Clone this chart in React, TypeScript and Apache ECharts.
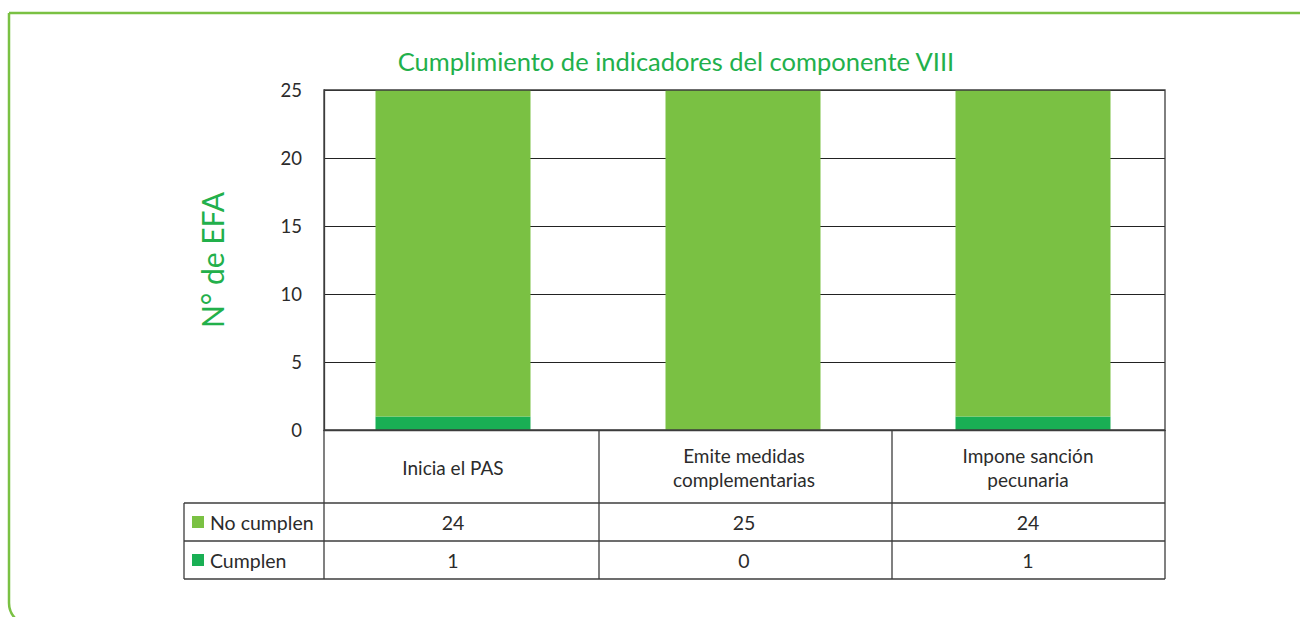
import React, { useEffect, useRef } from 'react';
import * as echarts from 'echarts';

const chartTitle = 'Cumplimiento de indicadores del componente VIII';
const yAxisName = 'N° de EFA';
const categories = ['Inicia el PAS', 'Emite medidas\ncomplementarias', 'Impone sanción\npecunaria'];
const seriesNames = ['No cumplen', 'Cumplen'];
const noCumplen = [24, 25, 24];
const cumplen = [1, 0, 1];
const yMin = 0;
const yMax = 25;
const yInterval = 5;

const LIGHT = '#7AC143';
const DARK = '#19AF54';
const TITLE_GREEN = '#22B04B';
const TEXT = '#2b2b2b';
const LINE = '#3c3c3c';
const FONT = 'Lato, "Noto Sans", sans-serif';

export default function App() {
  const ref = useRef<HTMLDivElement>(null);
  useEffect(() => {
    const chart = echarts.init(ref.current!, null, { renderer: 'svg' });
    const plotL = 324, plotT = 90, plotW = 841, plotH = 340;
    const plotR = plotL + plotW, plotB = plotT + plotH;
    const tableL = 184;
    const rowYs = [plotB, 503, 541, 579];
    const colXs = [plotL, 599, 892, plotR];
    const colCenters = [453, 744, 1028];
    const lineStyle = { stroke: LINE, lineWidth: 1.3 };
    const g: any[] = [];
    g.push({
      type: 'rect', silent: true,
      shape: { x: 9, y: 13, width: 1400, height: 612, r: [0, 0, 0, 22] },
      style: { fill: 'none', stroke: LIGHT, lineWidth: 2.5 },
    });
    g.push({ type: 'line', shape: { x1: tableL, y1: rowYs[1], x2: plotR, y2: rowYs[1] }, style: lineStyle });
    g.push({ type: 'line', shape: { x1: tableL, y1: rowYs[2], x2: plotR, y2: rowYs[2] }, style: lineStyle });
    g.push({ type: 'line', shape: { x1: tableL, y1: rowYs[3], x2: plotR, y2: rowYs[3] }, style: lineStyle });
    g.push({ type: 'line', shape: { x1: tableL, y1: rowYs[1], x2: tableL, y2: rowYs[3] }, style: lineStyle });
    colXs.forEach((x) => {
      g.push({ type: 'line', shape: { x1: x, y1: rowYs[0], x2: x, y2: rowYs[3] }, style: lineStyle });
    });
    categories.forEach((c, i) => {
      g.push({
        type: 'text',
        style: {
          text: c, x: colCenters[i], y: (rowYs[0] + rowYs[1]) / 2 + 1,
          align: 'center', verticalAlign: 'middle', fontFamily: FONT, fontSize: 19,
          lineHeight: 24, fill: TEXT,
        },
      });
    });
    const rows = [
      { name: seriesNames[0], color: LIGHT, values: noCumplen },
      { name: seriesNames[1], color: DARK, values: cumplen },
    ];
    rows.forEach((r, ri) => {
      const cy = (rowYs[ri + 1] + rowYs[ri + 2]) / 2;
      g.push({ type: 'rect', shape: { x: 192, y: cy - 6, width: 12, height: 12 }, style: { fill: r.color } });
      g.push({
        type: 'text',
        style: { text: r.name, x: 210, y: cy, align: 'left', verticalAlign: 'middle', fontFamily: FONT, fontSize: 19.5, fill: TEXT },
      });
      r.values.forEach((v, i) => {
        g.push({
          type: 'text',
          style: { text: String(v), x: colCenters[i], y: cy, align: 'center', verticalAlign: 'middle', fontFamily: FONT, fontSize: 19.5, fill: TEXT },
        });
      });
    });

    chart.setOption({
      animation: false,
      title: {
        text: chartTitle, left: 671, top: 43, textAlign: 'center',
        textStyle: { color: TITLE_GREEN, fontSize: 25.5, fontWeight: 'normal', fontFamily: FONT },
      },
      grid: [
        { left: plotL, top: plotT, width: plotW, height: plotH, show: true, borderColor: LINE, borderWidth: 1.3, backgroundColor: 'transparent', z: 3 },
        { left: 308, top: plotT, width: 870, height: plotH },
      ],
      xAxis: [
        { type: 'category', gridIndex: 0, data: categories, axisLine: { show: true, lineStyle: { color: LINE, width: 1.3 } }, axisTick: { show: false }, axisLabel: { show: false }, splitLine: { show: false } },
        { type: 'category', gridIndex: 1, data: categories, show: false },
      ],
      yAxis: [
        {
          type: 'value', gridIndex: 0, min: yMin, max: yMax, interval: yInterval,
          name: yAxisName, nameLocation: 'middle', nameRotate: 90, nameGap: 97,
          nameTextStyle: { color: TITLE_GREEN, fontSize: 30, fontFamily: FONT },
          axisLine: { show: true, lineStyle: { color: LINE, width: 1.3 } },
          axisTick: { show: false },
          axisLabel: { color: TEXT, fontSize: 18.5, fontFamily: FONT, margin: 22 },
          splitLine: { show: true, lineStyle: { color: '#222', width: 1 } },
        },
        { type: 'value', gridIndex: 1, min: yMin, max: yMax, interval: yInterval, show: false, splitLine: { show: false } },
      ],
      series: [
        { name: seriesNames[1], type: 'bar', xAxisIndex: 1, yAxisIndex: 1, stack: 'a', data: cumplen, barWidth: 155, itemStyle: { color: DARK } },
        { name: seriesNames[0], type: 'bar', xAxisIndex: 1, yAxisIndex: 1, stack: 'a', data: noCumplen, barWidth: 155, itemStyle: { color: LIGHT } },
      ],
      graphic: g,
    });
    return () => chart.dispose();
  }, []);
  return <div ref={ref} style={{ position: 'fixed', left: 0, top: 0, width: 1300, height: 617, background: '#fff' }} />;
}
